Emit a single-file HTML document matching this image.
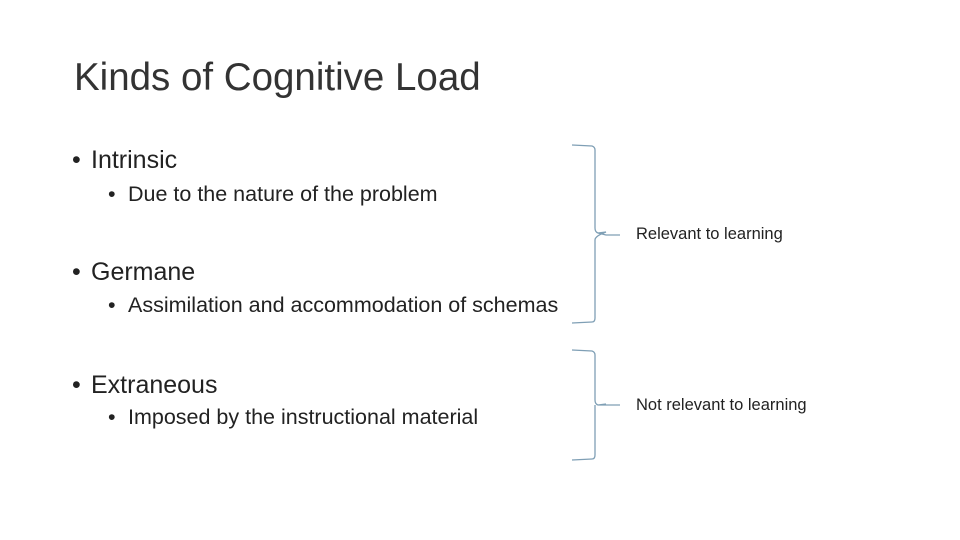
<!DOCTYPE html>
<html><head><style>
body{margin:0;width:960px;height:540px;background:#fff;position:relative;overflow:hidden;font-family:"Liberation Sans",sans-serif;color:#222}
div{position:absolute;white-space:nowrap}
.t{left:74px;top:56px;font-size:38.5px;color:#333}
.l1{font-size:25px}
.l1 b,.l2 b{font-weight:normal;display:inline-block}
.l1 b{width:19px}
.l2 b{width:20px}
.l2{font-size:21.5px}
.s{font-size:16.5px}
</style></head><body>
<div class="t">Kinds of Cognitive Load</div>
<div class="l1" style="left:72px;top:146px"><b>•</b>Intrinsic</div>
<div class="l2" style="left:108px;top:182px"><b>•</b>Due to the nature of the problem</div>
<div class="l1" style="left:72px;top:258px"><b>•</b>Germane</div>
<div class="l2" style="left:108px;top:293px"><b>•</b>Assimilation and accommodation of schemas</div>
<div class="l1" style="left:72px;top:371px"><b>•</b>Extraneous</div>
<div class="l2" style="left:108px;top:405px"><b>•</b>Imposed by the instructional material</div>
<div class="s" style="left:636px;top:225px">Relevant to learning</div>
<div class="s" style="left:636px;top:396px">Not relevant to learning</div>
<svg width="960" height="540" style="position:absolute;left:0;top:0" fill="none" stroke="#7f9fb5" stroke-width="1.3">
<path d="M572 145 L592 146 Q595 147 595 150 L595 228 Q595 232 598 233 L606 235 L620 235 M598 233 L606 232 Q595 236 595 240 L595 318 Q595 322 592 322 L572 323"/>
<path d="M572 350 L592 351 Q595 352 595 355 L595 400 Q595 404 598 405 L620 405 M598 405 L606 404 M595 405 L595 455 Q595 459 592 459 L572 460"/>
</svg>
</body></html>
